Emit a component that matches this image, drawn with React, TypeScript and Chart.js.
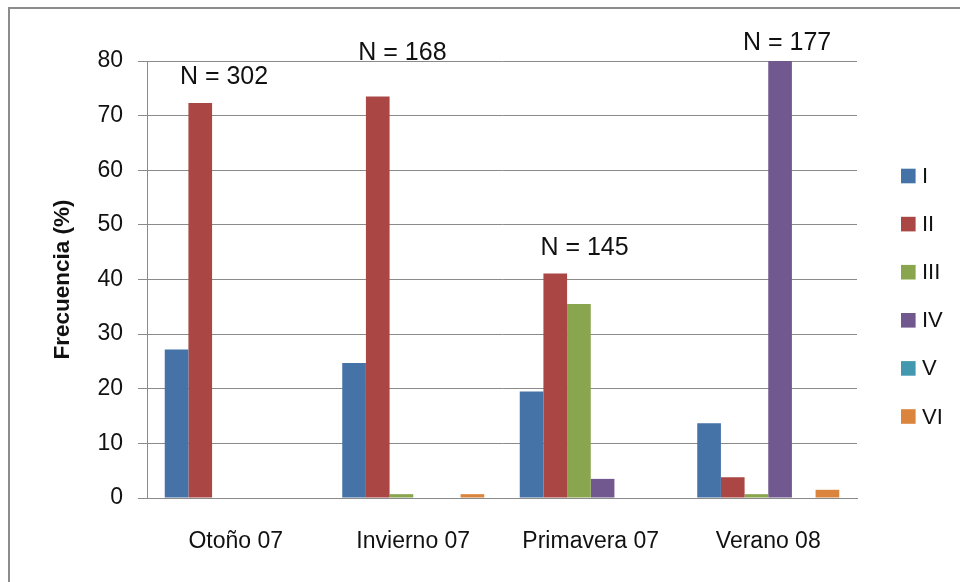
import React, { useEffect, useRef } from 'react';
import { Chart, registerables } from 'chart.js';

Chart.register(...registerables);

// ---- data ----
const categories = ['Otoño 07', 'Invierno 07', 'Primavera 07', 'Verano 08'];
const seriesNames = ['I', 'II', 'III', 'IV', 'V', 'VI'];
const serieI = [27.2, 24.7, 19.5, 13.7];
const serieII = [72.3, 73.5, 41.1, 3.8];
const serieIII = [0, 0.7, 35.5, 0.7];
const serieIV = [0, 0, 3.5, 80];
const serieV = [0, 0, 0, 0];
const serieVI = [0, 0.7, 0, 1.5];
const yMin = 0;
const yMax = 80;
const yStep = 10;
const yTitle = 'Frecuencia (%)';
const nLabels = ['N = 302', 'N = 168', 'N = 145', 'N = 177'];
const nLabelLevels = [77.1, 81.5, 45.8, 83.3];

// ---- style ----
const colors = ['#4572A7', '#AA4643', '#89A54E', '#71588F', '#4198AF', '#DB843D'];
const FONT = "'Liberation Sans', Arial, sans-serif";
const TEXT = '#111111';
const GRID = '#8a8a8a';
const nLabelShift = [-0.066, -0.061, -0.035, 0.106];

const nLabelPlugin = {
  id: 'nLabels',
  afterDatasetsDraw(chart: any) {
    const { ctx, scales } = chart;
    ctx.save();
    ctx.font = `25px ${FONT}`;
    ctx.fillStyle = TEXT;
    ctx.textAlign = 'center';
    ctx.textBaseline = 'middle';
    nLabels.forEach((t, i) => {
      const x = scales.x.getPixelForValue(i + nLabelShift[i]);
      const y = scales.y.getPixelForValue(nLabelLevels[i]);
      ctx.fillText(t, x, y);
    });
    ctx.restore();
  },
};

const sideLegend = {
  id: 'sideLegend',
  afterDraw(chart: any) {
    const { ctx, chartArea } = chart;
    ctx.save();
    const x0 = chartArea.right + 44;
    const y0 = 176;
    const step = 48.1;
    const box = 14.6;
    chart.data.datasets.forEach((ds: any, i: number) => {
      const cy = y0 + i * step;
      ctx.fillStyle = ds.backgroundColor;
      ctx.fillRect(x0, cy - box / 2, box, box);
      ctx.font = `22px ${FONT}`;
      ctx.fillStyle = TEXT;
      ctx.textAlign = 'left';
      ctx.textBaseline = 'middle';
      ctx.fillText(ds.label, x0 + 21, cy + 1);
    });
    ctx.restore();
  },
};

export default function App() {
  const ref = useRef<HTMLCanvasElement | null>(null);

  useEffect(() => {
    if (!ref.current) return;
    const series = [serieI, serieII, serieIII, serieIV, serieV, serieVI];
    const chart = new Chart(ref.current, {
      type: 'bar',
      data: {
        labels: categories,
        datasets: series.map((d, i) => ({
          label: seriesNames[i],
          data: d,
          backgroundColor: colors[i],
          borderWidth: 0,
          categoryPercentage: 0.8,
          barPercentage: 1.0,
        })),
      },
      options: {
        animation: false,
        responsive: false,
        maintainAspectRatio: false,
        events: [],
        layout: { padding: { left: 0, right: 103, top: 61, bottom: 0 } },
        plugins: {
          legend: { display: false },
          tooltip: { enabled: false },
          title: { display: false },
        },
        scales: {
          x: {
            grid: { display: false, drawTicks: false },
            border: { display: true, color: GRID, width: 1 },
            ticks: { font: { family: FONT, size: 23 }, color: TEXT, padding: 30 },
            afterFit: (s: any) => { s.height = 84; },
          },
          y: {
            min: yMin,
            max: yMax,
            ticks: { stepSize: yStep, font: { family: FONT, size: 23 }, color: TEXT, padding: 15 },
            grid: { color: GRID, lineWidth: 1, drawTicks: true, tickLength: 9, tickColor: GRID },
            border: { display: true, color: GRID, width: 1 },
            title: {
              display: true,
              text: yTitle,
              font: { family: FONT, size: 22.5, weight: 'bold' },
              color: TEXT,
              padding: { top: 49, bottom: 0 },
            },
            afterFit: (s: any) => { s.width = 147; },
          },
        },
      },
      plugins: [nLabelPlugin, sideLegend],
    } as any);
    return () => chart.destroy();
  }, []);

  return (
    <div style={{ position: 'fixed', left: 0, top: 0, width: 960, height: 582, overflow: 'hidden', background: '#fff' }}>
      <div style={{ position: 'absolute', left: 8, top: 7, width: 1200, height: 1200, border: '2px solid #8c8c8c' }} />
      <canvas ref={ref} width={960} height={582} style={{ position: 'absolute', left: 0, top: 0, width: 960, height: 582 }} />
    </div>
  );
}
